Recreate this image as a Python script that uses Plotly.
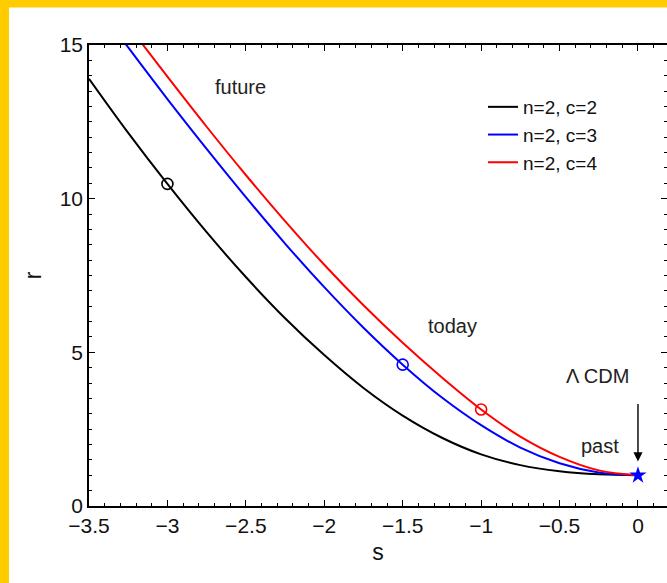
import plotly.graph_objects as go

# ---- data ----
s_grid = [-3.5, -3.25, -3.0, -2.75, -2.5, -2.25, -2.0, -1.75, -1.5, -1.25, -1.0, -0.75, -0.5, -0.25, 0.0]
r_c2 = [13.9, 12.14, 10.48, 8.91, 7.45, 6.11, 4.91, 3.84, 2.94, 2.22, 1.68, 1.33, 1.13, 1.03, 1.0]
r_c3 = [16.64, 14.92, 13.24, 11.62, 10.05, 8.54, 7.12, 5.8, 4.6, 3.53, 2.63, 1.9, 1.39, 1.09, 1.0]
r_c4 = [17.34, 15.63, 13.97, 12.34, 10.77, 9.27, 7.85, 6.53, 5.31, 4.18, 3.14, 2.26, 1.6, 1.16, 1.0]
labels = ["n=2, c=2", "n=2, c=3", "n=2, c=4"]
colors = ["#000000", "#0000FF", "#FF0000"]

today_s = [-3.0, -1.5, -1.0]
today_r = [10.48, 4.6, 3.14]

lcdm_s = [0.0]
lcdm_r = [1.0]

xticks = [-3.5, -3, -2.5, -2, -1.5, -1, -0.5, 0]
yticks = [0, 5, 10, 15]

FONT = "Liberation Sans, Arial, Helvetica, sans-serif"

fig = go.Figure()
for rv, lab, col in zip([r_c2, r_c3, r_c4], labels, colors):
    fig.add_trace(go.Scatter(x=s_grid, y=rv, mode="lines", name=lab,
                             line=dict(color=col, width=2, shape="spline", smoothing=1.0)))
for ts, tr, col in zip(today_s, today_r, colors):
    fig.add_trace(go.Scatter(x=[ts], y=[tr], mode="markers", showlegend=False,
                             marker=dict(symbol="circle-open", size=11, color=col,
                                         line=dict(width=1.6, color=col))))
fig.add_trace(go.Scatter(x=lcdm_s, y=lcdm_r, mode="markers", showlegend=False,
                         marker=dict(symbol="star", size=13, color="#0000FF",
                                     line=dict(width=0))))

W, H = 667, 583
L, R, T, B = 89, 0, 45, 77
pw, ph = W - L - R, H - T - B

def px(x):
    return (x - L) / pw

def py(y):
    return (H - B - y) / ph

yellow = "#FFCC00"
fig.add_shape(type="rect", xref="paper", yref="paper", x0=px(0), x1=px(9), y0=py(H), y1=py(0),
              fillcolor=yellow, line=dict(width=0), layer="above")
fig.add_shape(type="rect", xref="paper", yref="paper", x0=px(0), x1=px(W), y0=py(7.5), y1=py(0),
              fillcolor=yellow, line=dict(width=0), layer="above")

ann_font = dict(family=FONT, size=20, color="#222222")
fig.add_annotation(x=-2.535, y=13.62, text="future", showarrow=False, font=ann_font)
fig.add_annotation(x=-1.18, y=5.87, text="today", showarrow=False, font=ann_font)
fig.add_annotation(x=-0.24, y=1.96, text="past", showarrow=False, font=ann_font)
fig.add_annotation(x=-0.255, y=4.24, text="Λ CDM", showarrow=False, font=ann_font)
fig.add_annotation(x=0, y=1.45, ax=0, ay=3.37, xref="x", yref="y", axref="x", ayref="y",
                   text="", showarrow=True, arrowhead=2, arrowsize=1.3, arrowwidth=1.4,
                   arrowcolor="#000000")

axis_common = dict(showline=True, linecolor="black", linewidth=1.5, mirror="allticks",
                   ticks="inside", ticklen=6, tickwidth=1.3, tickcolor="black",
                   showgrid=False, zeroline=False, automargin=False,
                   tickfont=dict(family=FONT, size=21, color="#111111"))

fig.update_xaxes(range=[-3.5, 0.185], tickvals=xticks,
                 minor=dict(dtick=0.1, ticklen=3, tickwidth=1.1, ticks="inside", tickcolor="black", showgrid=False),
                 title=dict(text="s", font=dict(family=FONT, size=23, color="#111111"), standoff=8),
                 **axis_common)
fig.update_yaxes(range=[0, 15], tickvals=yticks,
                 minor=dict(dtick=0.5, ticklen=3, tickwidth=1.1, ticks="inside", tickcolor="black", showgrid=False),
                 title=dict(text="r", font=dict(family=FONT, size=23, color="#111111"), standoff=12),
                 **axis_common)

fig.update_layout(
    width=W, height=H,
    margin=dict(l=L, r=R, t=T, b=B, pad=0),
    paper_bgcolor="white", plot_bgcolor="white",
    showlegend=True,
    legend=dict(x=px(483), y=py(88), xanchor="left", yanchor="top",
                font=dict(family=FONT, size=19, color="#111111"),
                bgcolor="rgba(0,0,0,0)", borderwidth=0, tracegroupgap=0),
)

fig.write_html("out.html")
